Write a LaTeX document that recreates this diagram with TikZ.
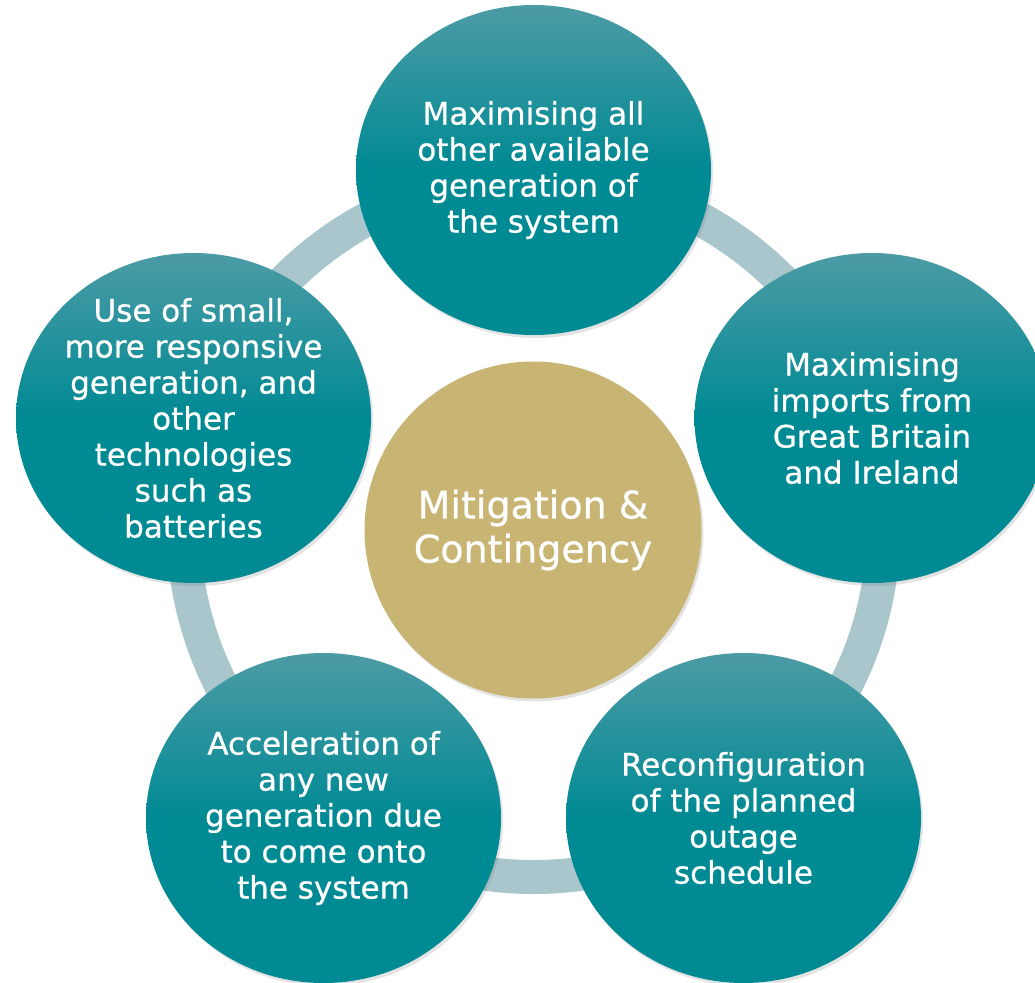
\documentclass[tikz,border=0pt]{standalone}
\usepackage{fontspec}
\setmainfont{DejaVu Sans}
\newfontfamily\diagfont{DejaVu Sans}[FakeBold=0.7]
\usetikzlibrary{shapes.geometric,shadows}

\definecolor{tealtop}{RGB}{76,155,165}
\definecolor{tealbot}{RGB}{0,138,148}
\definecolor{goldfill}{RGB}{200,180,115}
\definecolor{ringgrey}{RGB}{168,198,203}

\begin{document}
\begin{tikzpicture}[x=1pt, y=-1pt,
	ring/.style={draw=ringgrey, line width=34pt},
	soft shadow/.style={drop shadow={opacity=0.22, shadow xshift=2pt, shadow yshift=-3pt}},
	outer node/.style={ellipse, minimum width=355pt, minimum height=330pt, inner sep=-40pt,
		top color=tealtop, bottom color=tealbot, middle color=tealbot, soft shadow,
		text=white, align=center, font=\diagfont\fontsize{31}{36}\selectfont},
	centre node/.style={circle, minimum size=337pt, fill=goldfill, soft shadow,
		text=white, align=center, font=\diagfont\fontsize{38}{44}\selectfont}]

	\useasboundingbox (0,0) rectangle (1035,982);

	\coordinate (hub) at (533.5,527);
	\draw[ring] (hub) circle[radius=350pt];

	\node[centre node] (mitig) at (533,530) {Mitigation \&\\Contingency};

	\node[outer node] (maxgen) at (533.5,170) {Maximising all\\other available\\generation of\\the system};
	\node[outer node] (imports) at (872,418) {Maximising\\imports from\\Great Britain\\and Ireland};
	\node[outer node] (outage) at (743.5,818) {Reconfiguration\\of the planned\\outage\\schedule};
	\node[outer node] (accel) at (323.5,818) {Acceleration of\\any new\\generation due\\to come onto\\the system};
	\node[outer node] (smallgen) at (193.5,418) {Use of small,\\more responsive\\generation, and\\other\\technologies\\such as\\batteries};

\end{tikzpicture}
\end{document}
